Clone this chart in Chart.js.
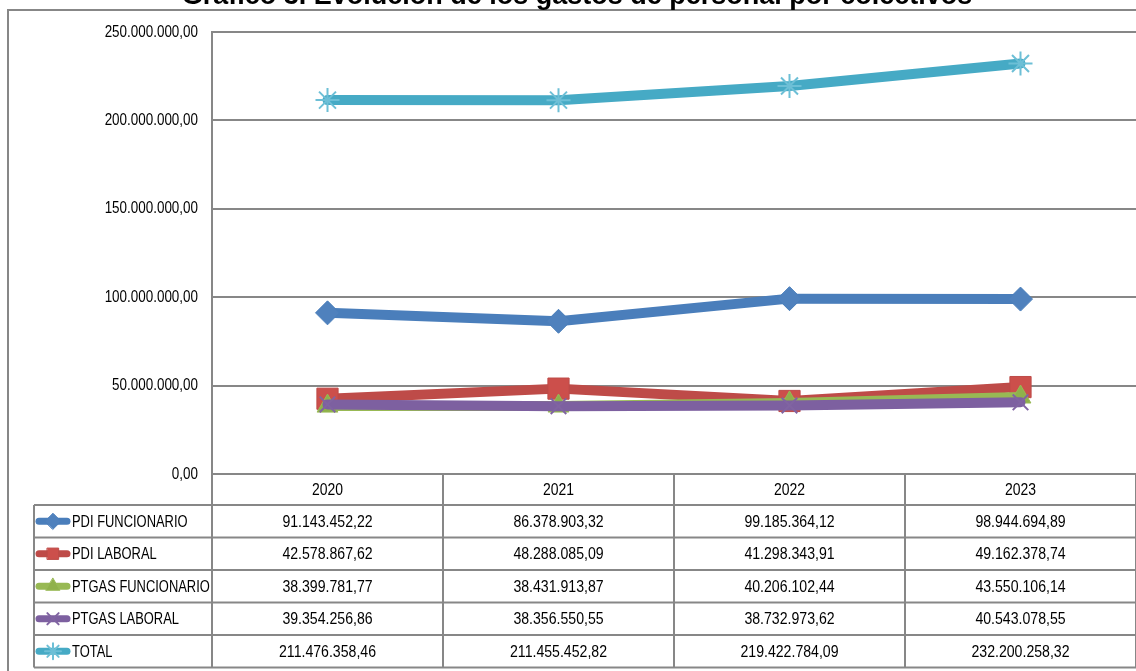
<!DOCTYPE html>
<html>
<head>
<meta charset="utf-8">
<script src="https://cdn.jsdelivr.net/npm/chart.js@4.4.1/dist/chart.umd.min.js"></script>
<style>
    html, body { margin: 0; padding: 0; background: #fff; }
    #wrap { width: 1136px; height: 671px; position: relative; }
</style>
</head>
<body>
<div id="wrap"><canvas id="gastosChart" width="1136" height="671"></canvas></div>
<script>
// ======================================================
// Data
// ======================================================

const years = ["2020", "2021", "2022", "2023"];

const pdiFuncionario = [91143452.22, 86378903.32, 99185364.12, 98944694.89];

const pdiLaboral = [42578867.62, 48288085.09, 41298343.91, 49162378.74];

const ptgasFuncionario = [38399781.77, 38431913.87, 40206102.44, 43550106.14];

const ptgasLaboral = [39354256.86, 38356550.55, 38732973.62, 40543078.55];

const total = [211476358.46, 211455452.82, 219422784.09, 232200258.32];

const seriesNames = ["PDI FUNCIONARIO", "PDI LABORAL", "PTGAS FUNCIONARIO", "PTGAS LABORAL", "TOTAL"];

const yTicks = [0, 50000000, 100000000, 150000000, 200000000, 250000000];

const chartTitle = "Gráfico 3. Evolución de los gastos de personal por colectivos";

// ======================================================
// Helpers
// ======================================================

const FONT = "17px 'Liberation Sans', Arial, sans-serif";
const GRID = "#878787";

function formatEs(v) {
    const cents = Math.round(v * 100);
    const intPart = Math.floor(cents / 100).toString();
    const dec = (cents % 100).toString().padStart(2, "0");
    return intPart.replace(/\B(?=(\d{3})+(?!\d))/g, ".") + "," + dec;
}

// no narrow font installed, so squeeze the text horizontally
function narrowText(ctx, text, x, y, align, squeeze) {
    ctx.save();
    ctx.translate(x, y);
    ctx.scale(squeeze, 1);
    ctx.font = FONT;
    ctx.textAlign = align;
    ctx.textBaseline = "middle";
    ctx.fillStyle = "#000";
    ctx.fillText(text, 0, 0);
    ctx.restore();
}

function series(label, data, color, markerColor, pointStyle, radius, order) {
    const thin = pointStyle === "star" || pointStyle === "crossRot";
    return {
        label: label,
        data: data,
        borderColor: color,
        backgroundColor: markerColor,
        pointBackgroundColor: markerColor,
        pointBorderColor: thin ? markerColor : color,
        pointBorderWidth: thin ? 2 : 1,
        pointStyle: pointStyle,
        pointRadius: radius,
        borderWidth: 10,
        borderCapStyle: "round",
        borderJoinStyle: "round",
        tension: 0,
        order: order
    };
}

const datasets = [
    series(seriesNames[0], pdiFuncionario, "#4A7EBB", "#4F81BD", "rectRot", 12, 4),
    series(seriesNames[1], pdiLaboral, "#BE4B48", "#CC4F4B", "rect", 15, 3),
    series(seriesNames[2], ptgasFuncionario, "#98B954", "#8FB14B", "triangle", 12, 2),
    series(seriesNames[3], ptgasLaboral, "#7D60A0", "#8064A2", "crossRot", 11, 1),
    series(seriesNames[4], total, "#46AAC5", "#6DBFD6", "star", 12, 0)
];

// ======================================================
// Frame, title, y labels and data table
// ======================================================

const tablePlugin = {
    id: "tablePlugin",
    beforeDraw(chart) {
        const ctx = chart.ctx;
        ctx.save();
        ctx.strokeStyle = GRID;
        ctx.lineWidth = 2;
        ctx.beginPath();
        ctx.moveTo(8, 671);
        ctx.lineTo(8, 10);
        ctx.lineTo(1136, 10);
        ctx.stroke();

        ctx.fillStyle = "#000";
        ctx.font = "bold 27px 'Liberation Sans', sans-serif";
        ctx.textAlign = "center";
        ctx.textBaseline = "alphabetic";
        ctx.fillText(chartTitle, 577, 4, 800);
        ctx.restore();

        const y = chart.scales.y;
        yTicks.forEach(v => {
            narrowText(ctx, formatEs(v), 198, y.getPixelForValue(v), "right", 0.79);
        });
    },
    afterDraw(chart) {
        const ctx = chart.ctx;
        const x = chart.scales.x;
        const area = chart.chartArea;
        const colW = (area.right - area.left) / years.length;
        const rowH = 32.5;
        const headTop = area.bottom;
        const headBottom = headTop + 31;
        const legendLeft = 34;
        const tableBottom = headBottom + rowH * seriesNames.length;

        ctx.save();
        ctx.strokeStyle = GRID;
        ctx.lineWidth = 2;
        ctx.beginPath();
        // column lines
        for (let i = 0; i <= years.length; i++) {
            const cx = area.left + colW * i;
            ctx.moveTo(cx, headTop);
            ctx.lineTo(cx, tableBottom);
        }
        ctx.moveTo(legendLeft, headBottom);
        ctx.lineTo(legendLeft, tableBottom);
        // row lines
        for (let r = 0; r <= seriesNames.length; r++) {
            const ry = headBottom + rowH * r;
            ctx.moveTo(legendLeft, ry);
            ctx.lineTo(area.right, ry);
        }
        ctx.stroke();
        ctx.restore();

        years.forEach((yr, i) => {
            narrowText(ctx, yr, x.getPixelForValue(i), (headTop + headBottom) / 2 + 1, "center", 0.82);
        });

        datasets.forEach((ds, r) => {
            const cy = headBottom + rowH * r + rowH / 2;
            ds.data.forEach((v, i) => {
                narrowText(ctx, formatEs(v), x.getPixelForValue(i), cy + 1, "center", 0.83);
            });

            // legend key
            ctx.save();
            ctx.strokeStyle = ds.borderColor;
            ctx.lineWidth = 7;
            ctx.lineCap = "round";
            ctx.beginPath();
            ctx.moveTo(39, cy);
            ctx.lineTo(67, cy);
            ctx.stroke();
            ctx.fillStyle = ds.pointBackgroundColor;
            ctx.strokeStyle = ds.pointBorderColor;
            ctx.lineWidth = ds.pointBorderWidth;
            Chart.helpers.drawPoint(ctx, {
                pointStyle: ds.pointStyle,
                radius: 8,
                borderWidth: ds.pointBorderWidth,
                rotation: 0
            }, 53, cy);
            ctx.restore();

            narrowText(ctx, ds.label, 72, cy + 1, "left", 0.76);
        });
    }
};

// ======================================================
// Line Chart
// ======================================================

const canvas = document.querySelector("#gastosChart");

new Chart(canvas, {
    type: "line",
    data: {
        labels: years,
        datasets: datasets
    },
    options: {
        responsive: false,
        animation: false,
        devicePixelRatio: 1,
        layout: {
            autoPadding: false,
            padding: { top: 32, bottom: 197, left: 0, right: 0 }
        },
        plugins: {
            legend: { display: false },
            title: { display: false },
            tooltip: { enabled: false }
        },
        scales: {
            x: {
                offset: true,
                grid: { display: false, drawTicks: false },
                border: { display: false },
                ticks: { display: false },
                afterFit(scale) { scale.height = 0; }
            },
            y: {
                min: 0,
                max: 250000000,
                afterFit(scale) { scale.width = 212; },
                afterBuildTicks(scale) {
                    scale.ticks = yTicks.map(v => ({ value: v }));
                },
                grid: { color: GRID, lineWidth: 2, drawTicks: false },
                border: { display: true, color: GRID, width: 2 },
                ticks: { display: false }
            }
        }
    },
    plugins: [tablePlugin]
});
</script>
</body>
</html>
